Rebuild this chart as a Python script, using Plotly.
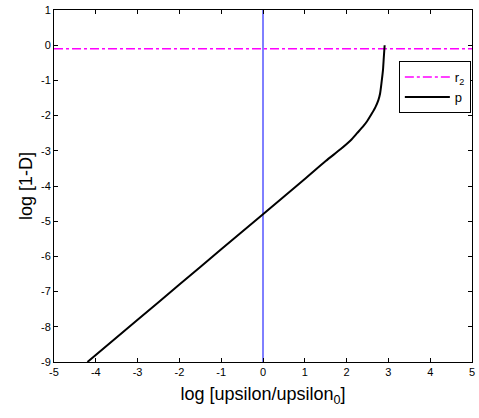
import plotly.graph_objects as go

# p curve
p_x = [-4.2, -3.0, -2.0, -1.0, 0.0, 1.0, 1.5, 1.86, 2.1, 2.25, 2.4, 2.49, 2.6, 2.69, 2.76, 2.80, 2.84, 2.87, 2.89, 2.91]
p_y = [-9.0, -7.8, -6.8, -5.8, -4.8, -3.8, -3.29, -2.95, -2.7, -2.5, -2.3, -2.16, -1.95, -1.76, -1.56, -1.38, -1.02, -0.71, -0.35, 0.0]

# r2 horizontal level
r2_x = [-5, 5]
r2_y = [-0.1, -0.1]

# vertical reference at log ratio 0
v_x = [0, 0]
v_y = [-9, 1]

x_ticks = [-5, -4, -3, -2, -1, 0, 1, 2, 3, 4, 5]
x_labels = ["-5", "-4", "-3", "-2", "-1", "0", "1", "2", "3", "4", "5"]
y_ticks = [1, 0, -1, -2, -3, -4, -5, -6, -7, -8, -9]
y_labels = ["1", "0", "-1", "-2", "-3", "-4", "-5", "-6", "-7", "-8", "-9"]

fig = go.Figure()
fig.add_trace(go.Scatter(x=v_x, y=v_y, mode="lines", line=dict(color="#0000FF", width=1), showlegend=False))
fig.add_trace(go.Scatter(x=r2_x, y=r2_y, mode="lines", name="r<sub>2</sub>",
                         line=dict(color="#FF00FF", width=1.5, dash="dashdot")))
fig.add_trace(go.Scatter(x=p_x, y=p_y, mode="lines", name="p",
                         line=dict(color="black", width=2, shape="spline", smoothing=0.7)))

axis_common = dict(showgrid=False, zeroline=False, showline=True, linecolor="black", linewidth=1,
                   mirror="ticks", ticks="inside", ticklen=4, tickcolor="black",
                   tickfont=dict(family="Arial", size=11, color="black"))

fig.update_layout(
    width=479, height=418,
    margin=dict(l=54, r=4, t=7, b=56),
    paper_bgcolor="white", plot_bgcolor="white",
    font=dict(family="Arial", color="black"),
    xaxis=dict(range=[-5, 5], tickvals=x_ticks, ticktext=x_labels,
               title=dict(text="log [upsilon/upsilon<sub>0</sub>]", font=dict(size=18), standoff=10),
               **axis_common),
    yaxis=dict(range=[-9, 1], tickvals=y_ticks, ticktext=y_labels,
               title=dict(text="log [1-D]", font=dict(size=18), standoff=3),
               **axis_common),
    legend=dict(x=0.825, y=0.855, xanchor="left", yanchor="top", bgcolor="white",
                bordercolor="black", borderwidth=1, font=dict(size=13, color="black"),
                itemwidth=45, tracegroupgap=0),
)

fig.write_html("out.html")
